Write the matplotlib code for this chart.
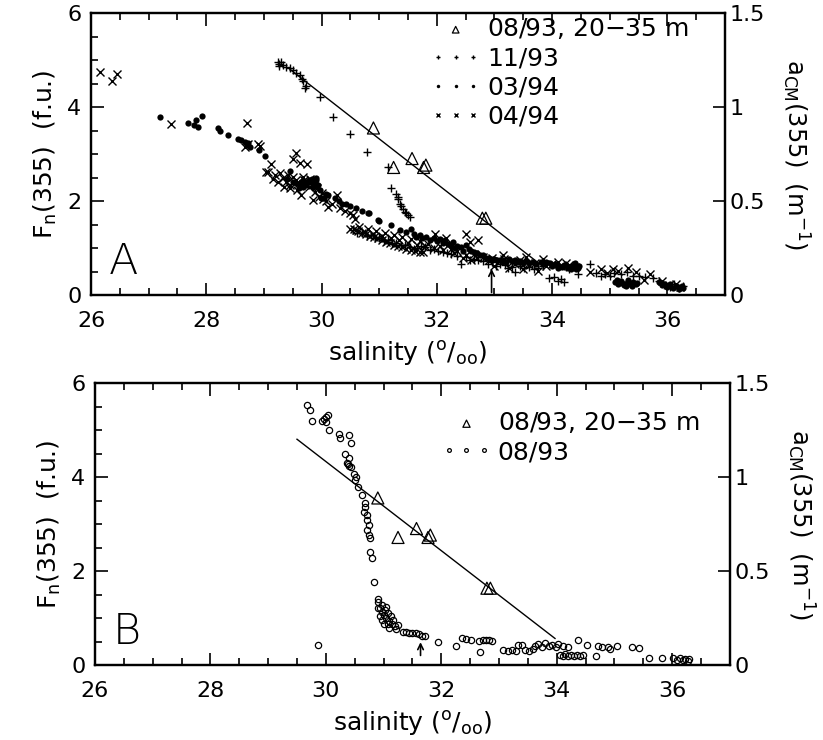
import numpy as np
import matplotlib
matplotlib.use('Agg')
import matplotlib.pyplot as plt
from matplotlib.ticker import MultipleLocator

# ---- data (salinity, F_n(355)) ----
# 08/93, 20-35 m (triangles) and the fitted line, same in both panels
tri_sal = [30.90, 31.25, 31.57, 31.77, 31.81, 32.79, 32.85]
tri_fn = [3.56, 2.72, 2.91, 2.72, 2.77, 1.64, 1.64]
fit_a_sal = [29.45, 33.75]
fit_a_fn = [4.81, 0.70]
fit_b_sal = [29.50, 33.97]
fit_b_fn = [4.81, 0.57]

# panel A: 11/93 (+)
pts_1193 = [
    (29.24, 4.96), (29.27, 4.92), (29.30, 4.97), (29.33, 4.89), (29.26, 4.88),
    (29.39, 4.86), (29.45, 4.83), (29.51, 4.79), (29.56, 4.74), (29.62, 4.68),
    (29.66, 4.60), (29.68, 4.57), (29.71, 4.42), (29.73, 4.45), (29.97, 4.22),
    (30.19, 3.79), (30.49, 3.44), (30.78, 3.05), (31.15, 2.73), (31.21, 2.29),
    (31.30, 2.16), (31.32, 2.10), (31.33, 2.04), (31.36, 1.95), (31.38, 1.90),
    (31.41, 1.84), (31.44, 1.78), (31.47, 1.74), (31.50, 1.70), (31.53, 1.67),
    (30.55, 1.38), (30.70, 1.32), (30.85, 1.28), (31.00, 1.22), (31.15, 1.18),
    (31.30, 1.12), (31.45, 1.08), (31.53, 1.03), (31.65, 1.00), (31.80, 1.02),
    (31.95, 0.98), (32.10, 0.93), (32.25, 0.88), (32.42, 0.67), (32.50, 0.82),
    (32.65, 0.78), (32.80, 0.72), (32.95, 0.70), (33.10, 0.66), (33.23, 0.57),
    (33.35, 0.50), (33.45, 0.62), (33.60, 0.60), (33.75, 0.58), (33.95, 0.36),
    (34.04, 0.38), (34.10, 0.30), (34.21, 0.28), (34.30, 0.55), (34.45, 0.45),
    (34.65, 0.67), (34.77, 0.47), (34.85, 0.42), (34.92, 0.45), (35.00, 0.40),
    (35.08, 0.47), (35.20, 0.45), (35.30, 0.49), (35.40, 0.42), (35.50, 0.40),
    (35.62, 0.38), (35.75, 0.36), (35.85, 0.30), (35.95, 0.22), (36.05, 0.18),
    (36.12, 0.25), (36.20, 0.15), (36.27, 0.20),
    (30.62, 1.32), (30.78, 1.26), (30.92, 1.22), (31.08, 1.16), (31.22, 1.12),
    (31.38, 1.06), (31.60, 0.98), (31.72, 1.05), (31.88, 0.96), (32.02, 0.95),
    (32.18, 0.90), (32.35, 0.84), (32.58, 0.76), (32.72, 0.74), (32.88, 0.66),
    (33.02, 0.62), (33.18, 0.64), (33.30, 0.60), (33.52, 0.57), (33.68, 0.55),
    (33.85, 0.62), (34.15, 0.34), (34.25, 0.60),
]

# panel A: 03/94 (filled dots)
pts_0394 = [
    (27.20, 3.79), (27.69, 3.67), (27.78, 3.62), (27.83, 3.72), (27.86, 3.58),
    (27.93, 3.81), (28.21, 3.55), (28.23, 3.50), (28.38, 3.40), (28.55, 3.33),
    (28.60, 3.30), (28.67, 3.26), (28.73, 3.23), (28.71, 3.19), (28.76, 3.15),
    (28.92, 3.09), (29.02, 2.96), (29.45, 2.64), (29.40, 2.48), (29.50, 2.41),
    (29.55, 2.38), (29.62, 2.34), (29.68, 2.30), (29.73, 2.34), (29.75, 2.40),
    (29.80, 2.41), (29.83, 2.48), (29.85, 2.30), (29.88, 2.38), (29.91, 2.45),
    (29.94, 2.35), (29.97, 2.23), (29.99, 2.06), (30.05, 2.06), (30.08, 2.16),
    (30.11, 2.13), (30.23, 2.06), (30.43, 1.95), (30.49, 1.91), (30.80, 1.74),
    (30.82, 1.76), (30.98, 1.60), (31.00, 1.58), (31.21, 1.49), (31.36, 1.38),
    (31.47, 1.35), (31.56, 1.42), (31.64, 1.24), (31.75, 1.22), (31.88, 1.17),
    (32.00, 1.15), (32.10, 1.12), (32.20, 1.10), (32.28, 1.13), (32.35, 1.05),
    (32.42, 1.03), (32.51, 1.06), (32.60, 0.95), (32.70, 0.90), (32.80, 0.85),
    (32.90, 0.80), (33.00, 0.78), (33.10, 0.76), (33.26, 0.78), (33.35, 0.75),
    (33.45, 0.73), (33.55, 0.72), (33.67, 0.71), (33.80, 0.70), (33.90, 0.71),
    (33.97, 0.68), (34.05, 0.66), (34.12, 0.62), (34.20, 0.65), (34.28, 0.58),
    (34.35, 0.62), (34.42, 0.55), (34.47, 0.63), (34.40, 0.68),
    (35.10, 0.28), (35.15, 0.24), (35.20, 0.30), (35.25, 0.22), (35.30, 0.27),
    (35.35, 0.24), (35.40, 0.29), (35.45, 0.23), (35.48, 0.27),
    (35.12, 0.32), (35.22, 0.26), (35.32, 0.32), (35.38, 0.20), (35.28, 0.20),
    (35.85, 0.28), (35.90, 0.22), (35.95, 0.25), (36.00, 0.18), (36.05, 0.23),
    (36.10, 0.16), (36.15, 0.20), (36.20, 0.14), (36.25, 0.19), (36.28, 0.15),
    (31.60, 1.30), (31.70, 1.28), (31.82, 1.25), (31.95, 1.22), (32.05, 1.20),
    (32.15, 1.18), (32.25, 1.05), (32.32, 1.00), (32.45, 0.95), (32.55, 0.98),
    (32.65, 0.92), (32.75, 0.86), (32.85, 0.80), (32.95, 0.76), (33.05, 0.74),
    (33.15, 0.72), (33.20, 0.70), (33.30, 0.73), (33.40, 0.70), (33.50, 0.68),
    (33.60, 0.69), (33.72, 0.67), (33.85, 0.66), (34.00, 0.62), (34.10, 0.58),
    (34.18, 0.60), (34.25, 0.64), (34.32, 0.56), (34.45, 0.59),
    (30.70, 1.80), (30.60, 1.85), (30.30, 2.00), (30.35, 1.95), (29.90, 2.50),
    (29.78, 2.45), (29.70, 2.38), (29.65, 2.42), (29.60, 2.28),
]

# panel A: 04/94 (x)
pts_0494 = [
    (26.16, 4.75), (26.36, 4.57), (26.45, 4.70), (27.38, 3.64), (28.70, 3.67),
    (28.68, 3.15), (28.72, 3.22), (28.90, 3.21), (28.93, 3.17), (29.04, 2.62),
    (29.07, 2.62), (29.13, 2.80), (29.16, 2.48), (29.20, 2.55), (29.28, 2.60),
    (29.33, 2.50), (29.38, 2.42), (29.42, 2.55), (29.46, 2.35), (29.51, 2.89),
    (29.56, 3.03), (29.62, 2.81), (29.65, 2.13), (29.74, 2.79), (29.70, 2.45),
    (29.78, 2.30), (29.85, 2.02), (29.88, 2.20), (29.95, 2.10), (30.02, 2.05),
    (30.11, 1.88), (30.18, 1.95), (30.26, 2.13), (30.32, 1.85), (30.40, 1.80),
    (30.49, 1.74), (30.55, 1.70), (30.58, 1.62),
    (29.55, 2.45), (29.60, 2.38), (29.67, 2.52), (29.72, 2.40), (29.80, 2.48),
    (29.84, 2.35), (29.92, 2.28), (30.00, 2.18), (30.08, 2.00), (29.50, 2.52),
    (29.25, 2.40), (29.35, 2.30), (29.45, 2.28), (29.58, 2.25),
    (30.49, 1.42), (30.56, 1.40), (30.63, 1.36), (30.70, 1.33), (30.77, 1.30),
    (30.84, 1.27), (30.91, 1.24), (30.98, 1.21), (31.05, 1.18), (31.12, 1.14),
    (31.19, 1.11), (31.26, 1.08), (31.33, 1.05), (31.40, 1.02), (31.47, 0.99),
    (31.55, 0.97), (31.62, 0.95), (31.70, 0.93), (31.76, 0.92),
    (30.65, 1.45), (30.80, 1.40), (30.95, 1.36), (31.10, 1.32), (31.25, 1.28),
    (31.40, 1.24), (31.55, 1.20), (31.70, 1.15), (31.85, 1.10), (31.96, 1.31),
    (32.05, 1.05), (32.16, 1.21), (32.25, 0.98), (32.35, 0.95), (32.45, 0.80),
    (32.51, 1.31), (32.57, 1.13), (32.60, 0.75), (32.65, 0.88), (32.71, 1.17),
    (32.80, 0.82), (32.95, 0.80), (33.00, 0.62), (33.15, 0.85), (33.17, 0.78),
    (33.25, 0.58), (33.30, 0.70), (33.45, 0.75), (33.50, 0.55), (33.55, 0.81),
    (33.70, 0.68), (33.75, 0.52), (33.84, 0.78), (34.00, 0.66), (34.15, 0.62),
    (34.30, 0.64), (34.65, 0.50), (34.85, 0.55), (34.95, 0.48), (35.05, 0.55),
    (35.15, 0.52), (35.31, 0.57), (35.45, 0.50), (35.60, 0.32), (35.70, 0.45),
    (35.90, 0.30), (36.03, 0.21), (36.15, 0.25), (36.22, 0.18),
    (30.60, 1.38), (30.75, 1.34), (30.90, 1.30), (31.05, 1.26), (31.20, 1.22),
    (31.35, 1.17), (31.50, 1.12), (31.65, 1.08), (31.80, 1.04), (31.95, 1.00),
    (32.10, 0.96), (32.30, 0.90), (32.50, 0.86), (32.70, 0.80), (32.90, 0.74),
    (33.10, 0.72), (33.35, 0.66), (33.60, 0.64), (33.90, 0.62), (34.10, 0.70),
    (34.25, 0.68), (34.40, 0.60),
]

# panel B: 08/93 (open circles)
pts_0893 = [
    (29.68, 5.53), (29.72, 5.44), (29.76, 5.20), (29.93, 5.20), (29.97, 5.25),
    (30.00, 5.28), (30.04, 5.32), (30.01, 5.18), (30.05, 5.01), (30.22, 4.93),
    (30.25, 4.84), (30.40, 4.91), (30.43, 4.73), (30.33, 4.49), (30.40, 4.42),
    (30.36, 4.30), (30.38, 4.28), (30.40, 4.25), (30.43, 4.21), (30.48, 4.08),
    (30.52, 4.01), (30.51, 3.94), (30.56, 3.79), (30.63, 3.62), (30.68, 3.45),
    (30.67, 3.37), (30.66, 3.26), (30.71, 3.19), (30.72, 3.09), (30.74, 2.98),
    (30.72, 2.87), (30.75, 2.77), (30.77, 2.70), (30.77, 2.41), (30.80, 2.29),
    (30.84, 1.77), (30.90, 1.42),
    (30.91, 1.35), (30.94, 1.22), (30.97, 1.14), (30.98, 1.29), (31.00, 1.08),
    (31.02, 1.18), (31.05, 1.01), (31.07, 1.11), (31.10, 0.94), (31.12, 1.04),
    (31.14, 0.87), (31.17, 0.97), (31.19, 0.84), (30.97, 0.97), (31.00, 0.87),
    (31.07, 0.87), (30.91, 1.22), (30.93, 1.05), (31.04, 1.25), (31.09, 0.80),
    (31.22, 0.78), (31.25, 0.85),
    (31.33, 0.71), (31.39, 0.70), (31.44, 0.69), (31.50, 0.69), (31.56, 0.68),
    (31.61, 0.66), (31.67, 0.63), (31.72, 0.62),
    (29.86, 0.43), (31.94, 0.50), (32.26, 0.41), (32.35, 0.57), (32.43, 0.55),
    (32.51, 0.53), (32.66, 0.51), (32.72, 0.53), (32.78, 0.53), (32.83, 0.53),
    (32.88, 0.52), (32.67, 0.28),
    (33.07, 0.32), (33.15, 0.31), (33.22, 0.32), (33.30, 0.31), (33.33, 0.43),
    (33.39, 0.43), (33.45, 0.32), (33.52, 0.30), (33.58, 0.34), (33.62, 0.42),
    (33.68, 0.45), (33.74, 0.38), (33.80, 0.47), (33.86, 0.40), (33.92, 0.44),
    (33.98, 0.38), (34.02, 0.46), (34.06, 0.21), (34.10, 0.19), (34.15, 0.23),
    (34.20, 0.20), (34.25, 0.22), (34.30, 0.19), (34.35, 0.21), (34.40, 0.20),
    (34.45, 0.22), (34.10, 0.42), (34.20, 0.38), (34.36, 0.53), (34.53, 0.43),
    (34.68, 0.19), (34.71, 0.40), (34.79, 0.39), (34.88, 0.39), (34.93, 0.34),
    (35.05, 0.40), (35.31, 0.38), (35.43, 0.36), (35.60, 0.16), (35.83, 0.16),
    (36.02, 0.15), (36.08, 0.12), (36.13, 0.16), (36.18, 0.11), (36.22, 0.14),
    (36.27, 0.10), (36.29, 0.13),
]

# arrows marking a salinity (x, y from, y to)
arrow_a = (32.95, 0.0, 0.62)
arrow_b = (31.64, 0.15, 0.55)

FS = 16      # tick labels
FS_LAB = 18  # axis labels and legends
plt.rcParams['font.family'] = ['DejaVu Sans']
plt.rcParams['axes.linewidth'] = 1.6


def style_axes(ax, ax2):
    ax.set_xlim(26, 37)
    ax.set_ylim(0, 6)
    ax2.set_ylim(0, 1.5)
    ax.xaxis.set_major_locator(MultipleLocator(2))
    ax.xaxis.set_minor_locator(MultipleLocator(0.5))
    ax.yaxis.set_major_locator(MultipleLocator(2))
    ax.yaxis.set_minor_locator(MultipleLocator(0.5))
    ax2.set_yticks([0, 0.5, 1, 1.5])
    ax2.set_yticklabels(['0', '0.5', '1', '1.5'])
    ax.tick_params(which='both', direction='in', top=True, right=False,
                   labelsize=FS, width=1.2, pad=7)
    ax.tick_params(axis='x', which='both', pad=11)
    ax.tick_params(which='major', length=9)
    ax.tick_params(which='minor', length=5)
    ax2.tick_params(direction='in', length=9, width=1.2, labelsize=FS, pad=3)
    ax.set_ylabel(r'F$_\mathrm{n}$(355)  (f.u.)', fontsize=FS_LAB, labelpad=6)
    ax2.set_ylabel(r'a$_\mathrm{CM}$(355)  (m$^{-1}$)', fontsize=17.5,
                   rotation=270, labelpad=34)
    ax.set_xlabel(r'salinity ($^\mathrm{o}/_\mathrm{oo}$)', fontsize=FS_LAB,
                  labelpad=6)


fig = plt.figure(figsize=(8.23, 7.40), dpi=100)
axA = fig.add_axes([0.1106, 0.601, 0.7703, 0.381])
axB = fig.add_axes([0.1154, 0.101, 0.7715, 0.381])
axA2 = axA.twinx()
axB2 = axB.twinx()

# ---- panel A ----
s, f = np.array(pts_1193).T
axA.plot(s, f, ls='none', marker='+', ms=6, mew=1.0, color='black', label='11/93')
s, f = np.array(pts_0394).T
axA.plot(s, f, ls='none', marker='o', ms=4.5, mew=0, color='black', label='03/94')
s, f = np.array(pts_0494).T
axA.plot(s, f, ls='none', marker='x', ms=5.5, mew=1.0, color='black', label='04/94')
axA.scatter(tri_sal, tri_fn, marker='^', s=75, facecolors='none',
            edgecolors='black', linewidths=0.9, label='08/93, 20$-$35 m', zorder=4)
axA.plot(fit_a_sal, fit_a_fn, color='black', lw=1.0)
axA.annotate('', xy=(arrow_a[0], arrow_a[2]), xytext=(arrow_a[0], arrow_a[1]),
             arrowprops=dict(arrowstyle='->', lw=1.2, color='black'))
axA.text(26.3, 0.45, 'A', fontsize=31, fontweight='light')

h, l = axA.get_legend_handles_labels()
order = [3, 0, 1, 2]
axA.legend([h[i] for i in order], [l[i] for i in order], loc='upper left',
           bbox_to_anchor=(0.52, 1.025), frameon=False, fontsize=FS_LAB,
           numpoints=3, scatterpoints=1, markerscale=0.55, handlelength=2.0,
           handletextpad=0.25, labelspacing=0.2, borderaxespad=0)

# ---- panel B ----
s, f = np.array(pts_0893).T
axB.plot(s, f, ls='none', marker='o', ms=4.5, mfc='none', mew=0.9,
         color='black', label='08/93')
axB.scatter(tri_sal, tri_fn, marker='^', s=75, facecolors='none',
            edgecolors='black', linewidths=0.9, label='08/93, 20$-$35 m', zorder=4)
axB.plot(fit_b_sal, fit_b_fn, color='black', lw=1.0)
axB.annotate('', xy=(arrow_b[0], arrow_b[2]), xytext=(arrow_b[0], arrow_b[1]),
             arrowprops=dict(arrowstyle='->', lw=1.2, color='black'))
axB.text(26.3, 0.45, 'B', fontsize=31, fontweight='light')

h, l = axB.get_legend_handles_labels()
axB.legend([h[1], h[0]], [l[1], l[0]], loc='upper left',
           bbox_to_anchor=(0.53, 0.94), frameon=False, fontsize=FS_LAB,
           numpoints=3, scatterpoints=1, markerscale=0.6, handlelength=2.0,
           handletextpad=0.25, labelspacing=0.2, borderaxespad=0)

style_axes(axA, axA2)
style_axes(axB, axB2)

fig.savefig('out.png', dpi=100)
